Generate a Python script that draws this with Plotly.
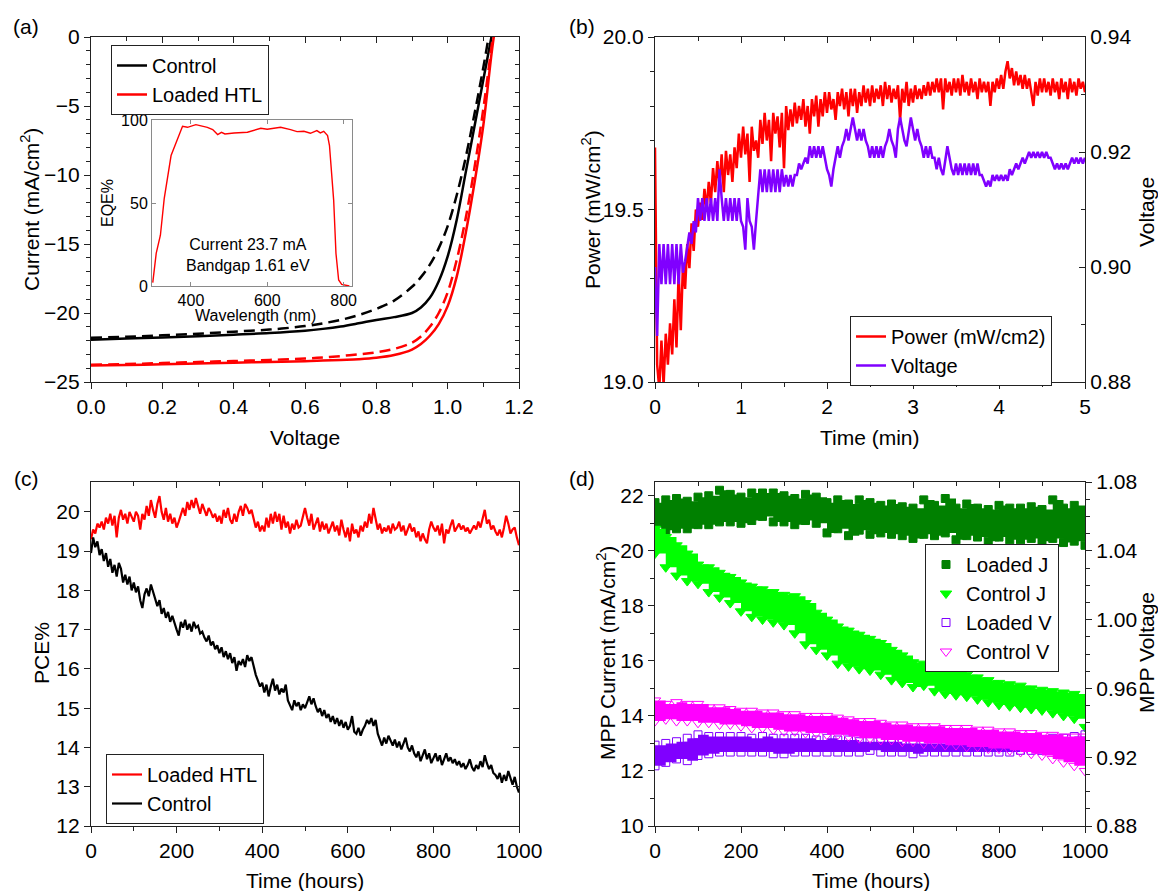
import plotly.graph_objects as go

W, H = 1158, 891
FONT = "Liberation Sans, Arial, sans-serif"
AX = "#222222"
FS = 21

def fx(p):
    return p / W

def fy(p):
    return 1 - p / H

# ---------------- (a) J-V curves ----------------
jv_voltage = [0.0, 0.1, 0.2, 0.3, 0.4, 0.5, 0.6, 0.65, 0.7, 0.75, 0.8, 0.85, 0.9,
              0.925, 0.95, 0.975, 1.0, 1.025, 1.05, 1.075, 1.1, 1.125, 1.15]
jv_control = [-21.93, -21.85, -21.78, -21.68, -21.57, -21.45, -21.28, -21.15, -20.98, -20.75,
              -20.5, -20.3, -20.0, -19.6, -18.9, -17.7, -15.9, -13.3, -9.9, -6.5, -3.1, 0.3, 3.5]
jv_loaded = [-23.8, -23.76, -23.72, -23.66, -23.6, -23.55, -23.5, -23.45, -23.4, -23.35,
             -23.25, -23.05, -22.65, -22.25, -21.65, -20.8, -19.5, -17.4, -14.3, -10.6, -6.4, -0.8, 3.5]
jv_control_rev = [-21.8, -21.72, -21.62, -21.5, -21.35, -21.2, -20.95, -20.75, -20.5, -20.15,
                  -19.7, -19.1, -18.1, -17.4, -16.5, -15.3, -13.7, -11.5, -8.8, -5.6, -2.2, 1.5, 5.0]
jv_loaded_rev = [-23.75, -23.7, -23.63, -23.55, -23.48, -23.4, -23.3, -23.22, -23.12, -23.0,
                 -22.85, -22.6, -22.15, -21.7, -21.0, -20.0, -18.5, -16.2, -13.2, -9.5, -5.2, -0.3, 4.5]

# inset EQE
eqe_wavelength = [300, 309, 320, 330, 348, 358, 378, 391, 413, 443, 457, 470, 480, 489, 513, 548,
                  583, 600, 635, 661, 678, 696, 713, 730, 739, 748, 758, 763, 768, 774, 780, 787,
                  795, 805, 815]
eqe_percent = [2, 19.6, 30.6, 52.6, 78.6, 84.6, 96.2, 95.6, 97.2, 95.6, 94.2, 91.2, 92.6, 91.6,
               92.2, 92.6, 95, 94.4, 95.6, 94.2, 93, 93.2, 92, 93.6, 92.2, 93.2, 90.6, 84.6, 71.6,
               51.6, 19.6, 3.6, 1.0, 0.3, 0]

# ---------------- (b) MPP tracking, 0.025 min sampling ----------------
mpp_power = [
    19.68, 19.05, 18.98, 19.12, 18.99, 19.14, 19.05, 19.17, 19.08, 19.24, 19.10, 19.32, 19.15, 19.34,
    19.27, 19.40, 19.33, 19.46, 19.38, 19.50, 19.45, 19.52, 19.47, 19.56, 19.50, 19.58, 19.52, 19.62,
    19.55, 19.64, 19.57, 19.66, 19.55, 19.67, 19.60, 19.66, 19.58, 19.68, 19.62, 19.72,
    19.65, 19.74, 19.66, 19.72, 19.58, 19.74, 19.67, 19.70, 19.65, 19.76, 19.69, 19.78, 19.70, 19.76,
    19.64, 19.78, 19.72, 19.77, 19.68, 19.78, 19.62, 19.80, 19.73, 19.79, 19.74, 19.81, 19.75, 19.80,
    19.76, 19.82, 19.74, 19.80, 19.72, 19.82, 19.77, 19.83, 19.74, 19.82, 19.77, 19.84,
    19.78, 19.84, 19.79, 19.82, 19.76, 19.84, 19.80, 19.85, 19.79, 19.84, 19.77, 19.85, 19.80, 19.85,
    19.78, 19.84, 19.80, 19.86, 19.81, 19.85, 19.80, 19.86, 19.81, 19.85, 19.82, 19.86, 19.80, 19.87,
    19.82, 19.86, 19.81, 19.85, 19.82, 19.86, 19.76, 19.85, 19.81, 19.87, 19.80, 19.85,
    19.81, 19.86, 19.82, 19.85, 19.82, 19.86, 19.83, 19.87, 19.83, 19.87, 19.84, 19.88, 19.84, 19.88,
    19.79, 19.88, 19.84, 19.87, 19.83, 19.88, 19.84, 19.88, 19.83, 19.89, 19.84, 19.87, 19.83, 19.88,
    19.84, 19.87, 19.82, 19.88, 19.84, 19.87, 19.84, 19.87, 19.80, 19.87, 19.84, 19.88,
    19.85, 19.89, 19.85, 19.90, 19.93, 19.88, 19.91, 19.86, 19.90, 19.86, 19.89, 19.85, 19.89, 19.85,
    19.88, 19.84, 19.80, 19.87, 19.83, 19.88, 19.84, 19.88, 19.84, 19.87, 19.83, 19.88, 19.84, 19.87,
    19.82, 19.88, 19.84, 19.87, 19.82, 19.88, 19.84, 19.87, 19.83, 19.88, 19.85, 19.87,
    19.84]
mpp_voltage = [
    0.900, 0.888, 0.904, 0.897, 0.904, 0.897, 0.904, 0.897, 0.904, 0.897, 0.904, 0.897, 0.904, 0.899,
    0.901, 0.904, 0.906, 0.904, 0.908, 0.906, 0.912, 0.908, 0.912, 0.908, 0.912, 0.908, 0.912, 0.908,
    0.912, 0.908, 0.917, 0.912, 0.908, 0.912, 0.908, 0.912, 0.908, 0.912, 0.908, 0.912,
    0.908, 0.907, 0.903, 0.912, 0.908, 0.907, 0.903, 0.908, 0.912, 0.917, 0.913, 0.917, 0.913, 0.917,
    0.913, 0.917, 0.913, 0.917, 0.913, 0.917, 0.914, 0.916, 0.914, 0.916, 0.914, 0.916, 0.916, 0.918,
    0.917, 0.918, 0.919, 0.918, 0.921, 0.919, 0.921, 0.919, 0.921, 0.919, 0.921, 0.919,
    0.917, 0.916, 0.914, 0.917, 0.919, 0.921, 0.919, 0.921, 0.922, 0.924, 0.922, 0.924, 0.926, 0.924,
    0.922, 0.924, 0.922, 0.924, 0.922, 0.921, 0.919, 0.921, 0.919, 0.921, 0.919, 0.921, 0.919, 0.921,
    0.922, 0.924, 0.922, 0.921, 0.919, 0.924, 0.926, 0.924, 0.922, 0.921, 0.924, 0.926,
    0.924, 0.922, 0.924, 0.922, 0.921, 0.919, 0.921, 0.919, 0.921, 0.919, 0.919, 0.917, 0.919, 0.917,
    0.916, 0.919, 0.921, 0.919, 0.917, 0.916, 0.918, 0.916, 0.918, 0.916, 0.918, 0.916, 0.918, 0.916,
    0.918, 0.916, 0.918, 0.916, 0.916, 0.915, 0.914, 0.915, 0.914, 0.916, 0.915, 0.916,
    0.915, 0.916, 0.915, 0.916, 0.915, 0.917, 0.916, 0.917, 0.918, 0.917, 0.918, 0.919, 0.918, 0.919,
    0.920, 0.919, 0.920, 0.919, 0.920, 0.919, 0.920, 0.919, 0.920, 0.919, 0.919, 0.918, 0.917, 0.918,
    0.917, 0.918, 0.917, 0.918, 0.917, 0.918, 0.919, 0.918, 0.919, 0.918, 0.919, 0.918,
    0.919]
power_minutes = [i * 0.025 for i in range(len(mpp_power))]
voltage_minutes = [i * 0.025 for i in range(len(mpp_voltage))]

# ---------------- (c) PCE stability, 5 h sampling ----------------
pce_loaded = [
    19.30, 19.55, 19.45, 19.70, 19.60, 19.75, 19.55, 19.85, 19.70, 19.95,
    19.65, 19.90, 19.35, 19.85, 20.05, 19.80, 19.95, 19.70, 20.00, 19.85,
    19.75, 20.00, 19.90, 19.55, 19.95, 19.80, 20.15, 19.90, 20.30, 20.05,
    19.85, 20.20, 20.40, 20.00, 19.80, 20.10, 19.75, 19.95, 19.70, 19.85,
    19.60, 19.75, 19.95, 20.10, 19.90, 20.25, 20.05, 20.30, 20.10, 20.35,
    20.15, 19.95, 20.20, 20.05, 19.90, 20.10, 20.00, 19.85, 19.95, 19.75,
    19.90, 19.70, 20.05, 19.85, 20.10, 19.80, 19.70, 19.95, 19.75, 20.00,
    20.15, 19.90, 20.20, 20.10, 19.95, 20.05, 19.80, 19.60, 19.75, 19.50,
    19.65, 19.50, 19.85, 19.60, 19.95, 19.70, 20.00, 19.75, 19.95, 19.55,
    19.90, 19.60, 19.75, 19.45, 19.70, 19.55, 19.80, 19.60, 19.65, 19.90,
    20.10, 19.85, 19.65, 19.95, 19.55, 19.70, 19.85, 19.50, 19.75, 19.55,
    19.70, 19.45, 19.60, 19.75, 19.50, 19.65, 19.40, 19.80, 19.55, 19.35,
    19.60, 19.25, 19.70, 19.45, 19.55, 19.35, 19.65, 19.50, 19.75, 19.60,
    19.95, 19.70, 20.10, 19.85, 19.55, 19.70, 19.45, 19.60, 19.50, 19.65,
    19.45, 19.70, 19.55, 19.60, 19.75, 19.50, 19.65, 19.40, 19.55, 19.70,
    19.50, 19.60, 19.35, 19.50, 19.25, 19.45, 19.30, 19.20, 19.55, 19.75,
    19.60, 19.50, 19.65, 19.40, 19.70, 19.20, 19.55, 19.45, 19.65, 19.80,
    19.50, 19.60, 19.70, 19.55, 19.65, 19.50, 19.60, 19.45, 19.55, 19.65,
    19.55, 19.75, 19.60, 19.85, 20.05, 19.70, 19.80, 19.55, 19.65, 19.50,
    19.40, 19.55, 19.35, 19.60, 19.90, 19.70, 19.45, 19.55, 19.60, 19.35,
    19.15]
pce_control = [
    18.95, 19.35, 19.10, 19.25, 18.90, 19.05, 18.75, 18.95, 18.60, 18.80,
    18.45, 18.65, 18.35, 18.70, 18.55, 18.20, 18.40, 18.15, 18.35, 18.00,
    18.20, 17.95, 18.10, 17.75, 17.55, 17.90, 18.05, 17.85, 18.15, 17.95,
    17.80, 17.60, 17.75, 17.40, 17.55, 17.30, 17.45, 17.20, 17.35, 17.15,
    17.00, 16.85, 17.20, 17.05, 17.25, 17.00, 17.15, 16.95, 17.20, 17.05,
    17.10, 16.90, 16.95, 16.80, 16.70, 16.85, 16.60, 16.70, 16.50, 16.60,
    16.40, 16.55, 16.30, 16.45, 16.25, 16.40, 16.15, 16.30, 15.95, 16.20,
    16.10, 16.25, 16.05, 16.35, 16.20, 16.30, 16.05, 15.85, 15.70, 15.55,
    15.65, 15.40, 15.60, 15.30, 15.55, 15.75, 15.45, 15.60, 15.35, 15.50,
    15.40, 15.60, 15.20, 15.05, 14.95, 15.20, 15.05, 15.15, 14.95, 15.10,
    15.00, 15.15, 15.30, 15.10, 15.25, 15.05, 14.90, 15.00, 14.80, 14.95,
    14.75, 14.85, 14.65, 14.80, 14.60, 14.75, 14.55, 14.70, 14.50, 14.65,
    14.45, 14.55, 14.80, 14.40, 14.35, 14.50, 14.30, 14.45, 14.55, 14.70,
    14.60, 14.75, 14.55, 14.70, 14.35, 14.20, 14.05, 14.25, 14.10, 14.30,
    14.15, 14.05, 14.20, 14.00, 14.15, 13.95, 14.10, 14.25, 14.00, 13.90,
    14.05, 13.85, 13.75, 13.90, 13.65, 13.80, 13.95, 13.70, 13.85, 13.60,
    13.75, 13.85, 13.65, 13.80, 13.55, 13.70, 13.85, 13.65, 13.75, 13.60,
    13.70, 13.55, 13.65, 13.50, 13.60, 13.45, 13.55, 13.70, 13.50, 13.40,
    13.55, 13.45, 13.65, 13.50, 13.80, 13.60, 13.45, 13.55, 13.35, 13.30,
    13.20, 13.35, 13.10, 13.30, 13.15, 13.40, 13.20, 13.05, 13.25, 13.00,
    12.85]
pce_hours = [i * 5 for i in range(len(pce_control))]

# ---------------- (d) MPP current / voltage bands, 25 h sampling ----------------
d_hours = [i * 25 for i in range(41)]
loaded_j_upper = [21.75, 21.85, 21.9, 21.8, 21.95, 22.0, 22.2, 22.05, 21.95, 22.1, 22.1, 22.1, 22.0,
                  21.9, 22.05, 21.95, 21.75, 21.85, 21.7, 21.85, 21.75, 21.65, 21.7, 21.6, 21.55,
                  21.85, 21.65, 21.9, 21.55, 21.7, 21.55, 21.5, 21.65, 21.55, 21.55, 21.6, 21.5,
                  21.85, 21.55, 21.65, 21.35]
loaded_j_lower = [20.85, 20.75, 20.8, 20.8, 20.95, 20.95, 21.05, 21.05, 21.0, 21.1, 21.25, 21.05,
                  21.05, 20.95, 21.1, 21.0, 20.65, 20.8, 20.55, 20.75, 20.6, 20.65, 20.6, 20.55,
                  20.45, 20.6, 20.55, 20.65, 20.4, 20.55, 20.5, 20.35, 20.5, 20.4, 20.4, 20.45,
                  20.35, 20.45, 20.3, 20.35, 20.2]
control_j_upper = [20.8, 20.5, 20.2, 19.9, 19.5, 19.4, 19.2, 19.05, 18.85, 18.7, 18.6, 18.5, 18.4,
                   18.35, 18.1, 17.75, 17.5, 17.25, 17.1, 16.95, 16.8, 16.65, 16.4, 16.2, 15.95,
                   15.9, 15.85, 15.75, 15.6, 15.5, 15.4, 15.3, 15.2, 15.15, 15.1, 15.0, 14.95, 14.9,
                   14.85, 14.8, 14.5]
control_j_lower = [19.9, 19.4, 19.1, 18.9, 18.8, 18.5, 18.3, 18.1, 17.8, 17.6, 17.5, 17.4, 17.3,
                   17.0, 16.6, 16.4, 16.2, 15.9, 15.8, 15.7, 15.65, 15.5, 15.3, 15.2, 15.05, 15.1,
                   14.9, 14.8, 14.75, 14.7, 14.6, 14.5, 14.4, 14.35, 14.3, 14.25, 14.2, 14.1, 14.0,
                   13.9, 13.6]
loaded_v_upper = [0.927, 0.928, 0.929, 0.931, 0.933, 0.932, 0.932, 0.932, 0.932, 0.931, 0.932, 0.931,
                  0.931, 0.931, 0.931, 0.930, 0.931, 0.930, 0.930, 0.929, 0.929, 0.929, 0.929, 0.928,
                  0.928, 0.928, 0.928, 0.928, 0.929, 0.929, 0.929, 0.929, 0.929, 0.929, 0.930, 0.930,
                  0.930, 0.931, 0.931, 0.932, 0.933]
loaded_v_lower = [0.915, 0.917, 0.919, 0.918, 0.921, 0.922, 0.923, 0.923, 0.923, 0.923, 0.923, 0.922,
                  0.922, 0.923, 0.923, 0.923, 0.923, 0.923, 0.923, 0.923, 0.924, 0.923, 0.923, 0.923,
                  0.922, 0.923, 0.923, 0.923, 0.923, 0.923, 0.923, 0.923, 0.923, 0.923, 0.924, 0.924,
                  0.924, 0.925, 0.925, 0.926, 0.927]
control_v_upper = [0.953, 0.951, 0.952, 0.951, 0.951, 0.949, 0.949, 0.948, 0.947, 0.947, 0.946, 0.946,
                   0.945, 0.945, 0.944, 0.944, 0.944, 0.943, 0.942, 0.941, 0.941, 0.940, 0.939, 0.939,
                   0.938, 0.938, 0.938, 0.937, 0.937, 0.937, 0.936, 0.936, 0.935, 0.935, 0.934, 0.934,
                   0.933, 0.933, 0.932, 0.932, 0.932]
control_v_lower = [0.941, 0.942, 0.941, 0.941, 0.940, 0.940, 0.939, 0.939, 0.938, 0.937, 0.937, 0.936,
                   0.935, 0.935, 0.934, 0.934, 0.933, 0.933, 0.932, 0.931, 0.931, 0.930, 0.930, 0.929,
                   0.929, 0.928, 0.928, 0.927, 0.927, 0.926, 0.926, 0.925, 0.925, 0.924, 0.923, 0.922,
                   0.921, 0.919, 0.917, 0.915, 0.912]

RED = "#FF0000"
BLACK = "#000000"
PURPLE = "#8000FF"
DKGREEN = "#008000"
GREEN = "#00FF00"
MAGENTA = "#FF00FF"

fig = go.Figure()

# ---- (a) ----
fig.add_trace(go.Scatter(x=jv_voltage, y=jv_control, mode="lines", name="Control",
                         line=dict(color=BLACK, width=2.5, shape="spline"),
                         xaxis="x", yaxis="y", legend="legend"))
fig.add_trace(go.Scatter(x=jv_voltage, y=jv_loaded, mode="lines", name="Loaded HTL",
                         line=dict(color=RED, width=2.5, shape="spline"),
                         xaxis="x", yaxis="y", legend="legend"))
fig.add_trace(go.Scatter(x=jv_voltage, y=jv_control_rev, mode="lines", showlegend=False,
                         line=dict(color=BLACK, width=2.5, shape="spline", dash="11px,6px"),
                         xaxis="x", yaxis="y"))
fig.add_trace(go.Scatter(x=jv_voltage, y=jv_loaded_rev, mode="lines", showlegend=False,
                         line=dict(color=RED, width=2.5, shape="spline", dash="11px,6px"),
                         xaxis="x", yaxis="y"))
fig.add_trace(go.Scatter(x=eqe_wavelength, y=eqe_percent, mode="lines", showlegend=False,
                         line=dict(color=RED, width=1.4), xaxis="x9", yaxis="y9"))

# ---- (b) ----
fig.add_trace(go.Scatter(x=power_minutes, y=mpp_power, mode="lines", name="Power (mW/cm2)",
                         line=dict(color=RED, width=2.5), xaxis="x2", yaxis="y2", legend="legend2"))
fig.add_trace(go.Scatter(x=voltage_minutes, y=mpp_voltage, mode="lines", name="Voltage",
                         line=dict(color=PURPLE, width=2.5), xaxis="x2", yaxis="y6", legend="legend2"))

# ---- (c) ----
fig.add_trace(go.Scatter(x=pce_hours, y=pce_loaded, mode="lines", name="Loaded HTL",
                         line=dict(color=RED, width=2.2), xaxis="x3", yaxis="y3", legend="legend3"))
fig.add_trace(go.Scatter(x=pce_hours, y=pce_control, mode="lines", name="Control",
                         line=dict(color=BLACK, width=2.2), xaxis="x3", yaxis="y3", legend="legend3"))

# ---- (d) ----
def band(lower, upper, color, symbol, name, yaxis, size):
    fig.add_trace(go.Scatter(x=d_hours, y=lower, mode="lines", showlegend=False,
                             line=dict(color=color, width=0, shape="hv"),
                             xaxis="x4", yaxis=yaxis, hoverinfo="skip"))
    fig.add_trace(go.Scatter(x=d_hours, y=upper, mode="lines", showlegend=False, fill="tonexty",
                             fillcolor=color, line=dict(color=color, width=0, shape="hv"),
                             xaxis="x4", yaxis=yaxis, hoverinfo="skip"))
    fig.add_trace(go.Scatter(x=d_hours, y=lower, mode="markers", showlegend=False,
                             marker=dict(symbol=symbol, color=color, size=size, line=dict(color=color, width=1)),
                             xaxis="x4", yaxis=yaxis))
    fig.add_trace(go.Scatter(x=d_hours, y=upper, mode="markers", name=name, legend="legend4",
                             marker=dict(symbol=symbol, color=color, size=size, line=dict(color=color, width=1)),
                             xaxis="x4", yaxis=yaxis))

band(loaded_j_lower, loaded_j_upper, DKGREEN, "square", "Loaded J", "y4", 8)
band(control_j_lower, control_j_upper, GREEN, "triangle-down", "Control J", "y4", 10)
band(loaded_v_lower, loaded_v_upper, PURPLE, "square-open", "Loaded V", "y8", 8)
band(control_v_lower, control_v_upper, MAGENTA, "triangle-down-open", "Control V", "y8", 10)

# empty traces so decorative mirror axes render
for xa, ya in [("x5", "y"), ("x", "y5"), ("x6", "y2"), ("x7", "y3"), ("x3", "y7"), ("x8", "y4")]:
    fig.add_trace(go.Scatter(x=[], y=[], xaxis=xa, yaxis=ya, showlegend=False, hoverinfo="skip"))


def axis(**kw):
    d = dict(showline=True, linecolor=AX, linewidth=1.3, showgrid=False, zeroline=False,
             ticks="outside", ticklen=6, tickwidth=1.3, tickcolor=AX, automargin=False,
             tickfont=dict(size=FS, family=FONT, color="black"), fixedrange=True)
    d.update(kw)
    return d


def minor(dt, inside=False):
    return dict(dtick=dt, ticks="inside" if inside else "outside", ticklen=3.5,
                tickwidth=1.2, tickcolor=AX, showgrid=False)


XA = [fx(91), fx(519)]
XB = [fx(655), fx(1085)]
YTOP = [fy(382), fy(37)]
YBOT = [fy(826), fy(482)]

layout_axes = dict(
    # (a)
    xaxis=axis(domain=XA, anchor="y", range=[0, 1.2], dtick=0.2, tickformat=".1f", minor=minor(0.1)),
    yaxis=axis(domain=YTOP, anchor="x", range=[-25, 0], dtick=5, minor=minor(1)),
    xaxis5=axis(overlaying="x", anchor="y", side="top", range=[0, 1.2], dtick=0.2, ticks="inside",
                showticklabels=False, minor=minor(0.1, True)),
    yaxis5=axis(overlaying="y", anchor="x", side="right", range=[-25, 0], dtick=5, ticks="inside",
                showticklabels=False, minor=minor(1, True)),
    # inset
    xaxis9=axis(domain=[fx(152), fx(352)], anchor="y9", range=[298, 822], tickvals=[400, 600, 800],
                ticks="inside", ticklen=4, mirror="ticks", linecolor="#8a8a8a", tickcolor="#8a8a8a",
                linewidth=1, tickfont=dict(size=16, family=FONT, color="black")),
    yaxis9=axis(domain=[fy(286), fy(120)], anchor="x9", range=[0, 100], tickvals=[0, 50, 100],
                ticks="inside", ticklen=4, mirror="ticks", linecolor="#8a8a8a", tickcolor="#8a8a8a",
                linewidth=1, tickfont=dict(size=16, family=FONT, color="black")),
    # (b)
    xaxis2=axis(domain=XB, anchor="y2", range=[0, 5], dtick=1, minor=minor(0.5)),
    yaxis2=axis(domain=YTOP, anchor="x2", range=[19, 20], dtick=0.5, tickformat=".1f", minor=minor(0.1)),
    xaxis6=axis(overlaying="x2", anchor="y2", side="top", range=[0, 5], dtick=1, ticks="inside",
                showticklabels=False, minor=minor(0.5, True)),
    yaxis6=axis(overlaying="y2", anchor="x2", side="right", range=[0.88, 0.94], dtick=0.02,
                tickformat=".2f", ticks="inside", minor=minor(0.01, True)),
    # (c)
    xaxis3=axis(domain=XA, anchor="y3", range=[0, 1000], dtick=200, minor=minor(100)),
    yaxis3=axis(domain=YBOT, anchor="x3", range=[12, 20.76], dtick=1),
    xaxis7=axis(overlaying="x3", anchor="y3", side="top", range=[0, 1000], dtick=200, ticks="inside",
                showticklabels=False, minor=minor(100, True)),
    yaxis7=axis(overlaying="y3", anchor="x3", side="right", range=[12, 20.76], dtick=1, ticks="inside",
                showticklabels=False),
    # (d)
    xaxis4=axis(domain=XB, anchor="y4", range=[0, 1000], dtick=200, minor=minor(100)),
    yaxis4=axis(domain=YBOT, anchor="x4", range=[10, 22.5], dtick=2, minor=minor(1)),
    xaxis8=axis(overlaying="x4", anchor="y4", side="top", range=[0, 1000], dtick=200, ticks="inside",
                showticklabels=False, minor=minor(100, True)),
    yaxis8=axis(overlaying="y4", anchor="x4", side="right", range=[0.88, 1.08], dtick=0.04,
                tickformat=".2f", minor=minor(0.01)),
)


def legend(x, y, bg="white"):
    return dict(x=fx(x), y=fy(y), xref="paper", yref="paper", xanchor="left", yanchor="top",
                bgcolor=bg, bordercolor=AX, borderwidth=1, traceorder="normal",
                font=dict(size=20, family=FONT, color="black"), tracegroupgap=0)


annotations = []


def text(t, x, y, angle=0, size=FS):
    annotations.append(dict(text=t, x=fx(x), y=fy(y), xref="paper", yref="paper", showarrow=False,
                            xanchor="center", yanchor="middle", textangle=angle,
                            font=dict(size=size, family=FONT, color="black")))


text("(a)", 26, 27)
text("(b)", 582, 27)
text("(c)", 26, 478)
text("(d)", 582, 478)
text("Current (mA/cm<sup>2</sup>)", 30, 210, -90)
text("Voltage", 305, 437)
text("Power (mW/cm<sup>2</sup>)", 591, 210, -90)
text("Voltage", 1146, 212, -90)
text("Time (min)", 870, 437)
text("PCE%", 41, 653, -90)
text("Time (hours)", 305, 880)
text("MPP Current (mA/cm<sup>2</sup>)", 606, 653, -90)
text("MPP Voltage", 1146, 653, -90)
text("Time (hours)", 871, 880)
text("EQE%", 108, 203, -90, 16)
text("Wavelength (nm)", 255, 315, 0, 16)
text("Current 23.7 mA<br>Bandgap 1.61 eV", 248, 255, 0, 16)

fig.update_layout(
    template="none",
    width=W, height=H, autosize=False,
    margin=dict(l=0, r=0, t=0, b=0, autoexpand=False),
    paper_bgcolor="white", plot_bgcolor="rgba(0,0,0,0)",
    font=dict(family=FONT, size=FS, color="black"),
    legend=legend(111, 45, "rgba(255,255,255,0)"),
    legend2=legend(850, 316),
    legend3=legend(106, 754),
    legend4=legend(925, 544),
    annotations=annotations,
    **layout_axes,
)

fig.write_html(
    "out.html",
    config={"displayModeBar": False},
    post_script="document.body.style.margin='0px';document.body.style.overflow='hidden';",
)
